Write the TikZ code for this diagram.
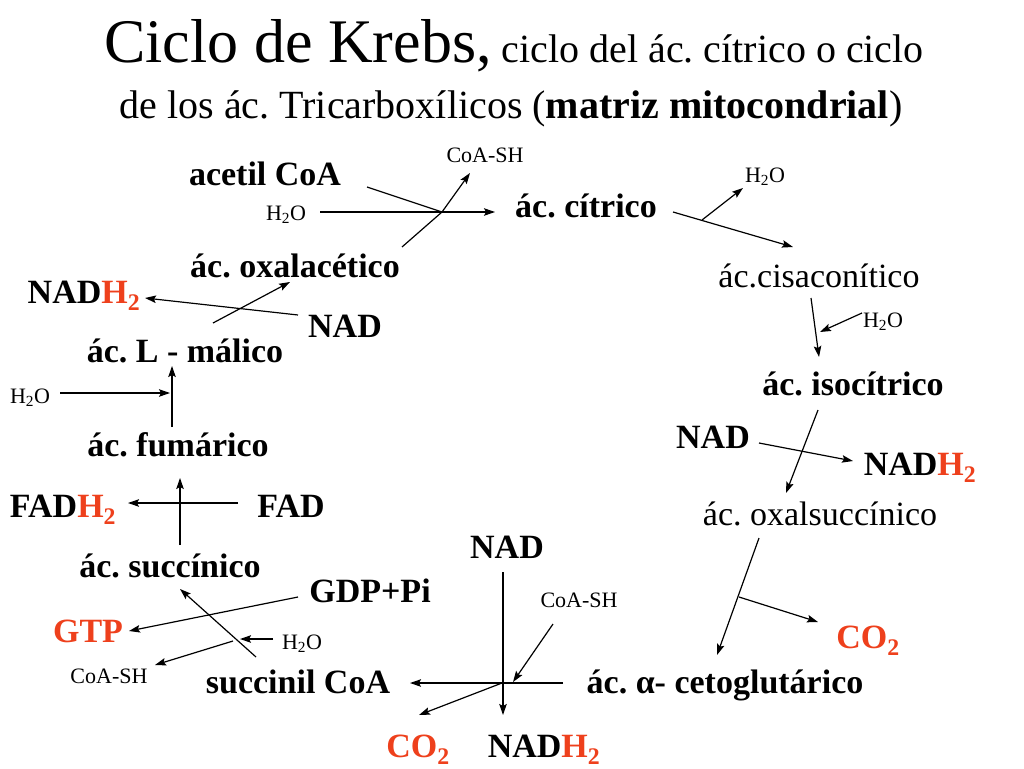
\documentclass[tikz,border=0pt]{standalone}
\usepackage{fontspec}
\setmainfont{Liberation Serif}
\usepackage{xcolor}
\usetikzlibrary{positioning,arrows.meta}
\definecolor{kred}{RGB}{238,64,28}
\frenchspacing
\newcommand{\hdos}{H\textsubscript{2}O}
\newcommand{\nadhdos}{NAD\textcolor{kred}{H\textsubscript{2}}}
\newcommand{\codos}{\textcolor{kred}{CO\textsubscript{2}}}

\begin{document}
\begin{tikzpicture}
[
x=1pt, y=-1pt,
text-t/.style={black, anchor=base, inner sep=0pt, font=\fontsize{40}{48}\selectfont},
text-b/.style={black, anchor=base, inner sep=0pt, font=\fontsize{34}{40}\selectfont\bfseries},
text-r/.style={black, anchor=base, inner sep=0pt, font=\fontsize{34}{40}\selectfont},
text-s/.style={black, anchor=base, inner sep=0pt, font=\fontsize{22}{26}\selectfont},
rxn/.style={-{Stealth[length=11pt,width=7.5pt,inset=2pt]}, line width=1.2pt},
seg/.style={line width=1.2pt}
]
\useasboundingbox (0,0) rectangle (1024,768);
\node (title-1)      [text-t] at (514,63)  {{\fontsize{62}{70}\selectfont Ciclo de Krebs,} ciclo del ác. cítrico o ciclo};
\node (title-2)      [text-t] at (511,118) {de los ác. Tricarboxílicos (\textbf{matriz mitocondrial})};
\node (acetil)       [text-b] at (265,185) {acetil CoA};
\node (h2o-1)        [text-s] at (286,220) {\hdos};
\node (coash-1)      [text-s] at (485,162) {CoA-SH};
\node (citrico)      [text-b] at (586,217) {ác. cítrico};
\node (oxalac)       [text-b] at (295,277) {ác. oxalacético};
\node (h2o-2)        [text-s] at (765,182) {\hdos};
\node (cisacon)      [text-r] at (819,287) {ác.cisaconítico};
\node (h2o-3)        [text-s] at (883,327) {\hdos};
\node (isocit)       [text-b] at (853,395) {ác. isocítrico};
\node (nad-1)        [text-b] at (713,448) {NAD};
\node (nadh2-1)      [text-b] at (920,475) {\nadhdos};
\node (oxalsuc)      [text-r] at (820,525) {ác. oxalsuccínico};
\node (co2-1)        [text-b] at (868,648) {\codos};
\node (cetoglu)      [text-b] at (725,693) {ác. α- cetoglutárico};
\node (nad-2)        [text-b] at (507,558) {NAD};
\node (coash-2)      [text-s] at (579,607) {CoA-SH};
\node (co2-2)        [text-b] at (418,757) {\codos};
\node (nadh2-2)      [text-b] at (544,757) {\nadhdos};
\node (succinil)     [text-b] at (298,693) {succinil CoA};
\node (coash-3)      [text-s] at (109,683) {CoA-SH};
\node (h2o-4)        [text-s] at (302,649) {\hdos};
\node (gtp)          [text-b] at (88,642)  {\textcolor{kred}{GTP}};
\node (gdp)          [text-b] at (370,602) {GDP+Pi};
\node (succinico)    [text-b] at (170,577) {ác. succínico};
\node (fadh2)        [text-b] at (63,517)  {FAD\textcolor{kred}{H\textsubscript{2}}};
\node (fad)          [text-b] at (291,517) {FAD};
\node (fumarico)     [text-b] at (178,456) {ác. fumárico};
\node (h2o-5)        [text-s] at (30,403)  {\hdos};
\node (malico)       [text-b] at (185,362) {ác. L - málico};
\node (nad-3)        [text-b] at (345,337) {NAD};
\node (nadh2-3)      [text-b] at (84,303)  {\nadhdos};
% arrow ends
\coordinate (acetil-o)    at (367,187);
\coordinate (h2o-1-o)     at (320,212);
\coordinate (oxalac-o)    at (402,247);
\coordinate (j-1)         at (442,212);
\coordinate (citrico-i)   at (495,212);
\coordinate (coash-1-i)   at (470,173);
\coordinate (citrico-o)   at (673,212);
\coordinate (j-2)         at (702,220);
\coordinate (h2o-2-i)     at (743,188);
\coordinate (cisacon-i)   at (793,247);
\coordinate (cisacon-o)   at (811,298);
\coordinate (h2o-3-o)     at (862,313);
\coordinate (j-3)         at (820,332);
\coordinate (isocit-i)    at (819,357);
\coordinate (isocit-o)    at (818,410);
\coordinate (oxalsuc-i)   at (786,493);
\coordinate (nad-1-o)     at (759,443);
\coordinate (nadh2-1-i)   at (853,461);
\coordinate (oxalsuc-o)   at (759,538);
\coordinate (cetoglu-i)   at (717,655);
\coordinate (j-4)         at (739,597);
\coordinate (co2-1-i)     at (818,622);
\coordinate (cetoglu-o)   at (563,683);
\coordinate (succinil-i)  at (410,683);
\coordinate (nad-2-o)     at (503,572);
\coordinate (nadh2-2-i)   at (503,715);
\coordinate (coash-2-o)   at (553,624);
\coordinate (j-5)         at (513,682);
\coordinate (j-6)         at (502,683);
\coordinate (co2-2-i)     at (419,715);
\coordinate (succinil-o)  at (256,657);
\coordinate (succinico-i) at (180,589);
\coordinate (gdp-o)       at (298,597);
\coordinate (gtp-i)       at (129,631);
\coordinate (h2o-4-o)     at (273,639);
\coordinate (j-7)         at (240,639);
\coordinate (j-8)         at (233,641);
\coordinate (coash-3-i)   at (155,665);
\coordinate (succinico-o) at (180,545);
\coordinate (fumarico-i)  at (180,478);
\coordinate (fad-o)       at (238,503);
\coordinate (fadh2-i)     at (128,503);
\coordinate (fumarico-o)  at (172,427);
\coordinate (malico-i)    at (172,366);
\coordinate (h2o-5-o)     at (60,393);
\coordinate (j-9)         at (170,393);
\coordinate (malico-o)    at (213,323);
\coordinate (oxalac-i)    at (290,282);
\coordinate (nad-3-o)     at (298,315);
\coordinate (nadh2-3-i)   at (145,298);
% citrato
\draw [seg] (acetil-o) -- (j-1);
\draw [seg] (oxalac-o) -- (j-1);
\draw [rxn] (h2o-1-o) -- (citrico-i);
\draw [rxn] (j-1) -- (coash-1-i);
% aconitasa
\draw [rxn] (citrico-o) -- (cisacon-i);
\draw [rxn] (j-2) -- (h2o-2-i);
\draw [rxn] (cisacon-o) -- (isocit-i);
\draw [rxn] (h2o-3-o) -- (j-3);
% isocitrato deshidrogenasa
\draw [rxn] (isocit-o) -- (oxalsuc-i);
\draw [rxn] (nad-1-o) -- (nadh2-1-i);
\draw [rxn] (oxalsuc-o) -- (cetoglu-i);
\draw [rxn] (j-4) -- (co2-1-i);
% alfa-cetoglutarato deshidrogenasa
\draw [rxn] (cetoglu-o) -- (succinil-i);
\draw [rxn] (nad-2-o) -- (nadh2-2-i);
\draw [rxn] (coash-2-o) -- (j-5);
\draw [rxn] (j-6) -- (co2-2-i);
% succinil CoA sintetasa
\draw [rxn] (succinil-o) -- (succinico-i);
\draw [rxn] (gdp-o) -- (gtp-i);
\draw [rxn] (h2o-4-o) -- (j-7);
\draw [rxn] (j-8) -- (coash-3-i);
% succinato deshidrogenasa
\draw [rxn] (succinico-o) -- (fumarico-i);
\draw [rxn] (fad-o) -- (fadh2-i);
% fumarasa
\draw [rxn] (fumarico-o) -- (malico-i);
\draw [rxn] (h2o-5-o) -- (j-9);
% malato deshidrogenasa
\draw [rxn] (malico-o) -- (oxalac-i);
\draw [rxn] (nad-3-o) -- (nadh2-3-i);
\end{tikzpicture}
\end{document}
